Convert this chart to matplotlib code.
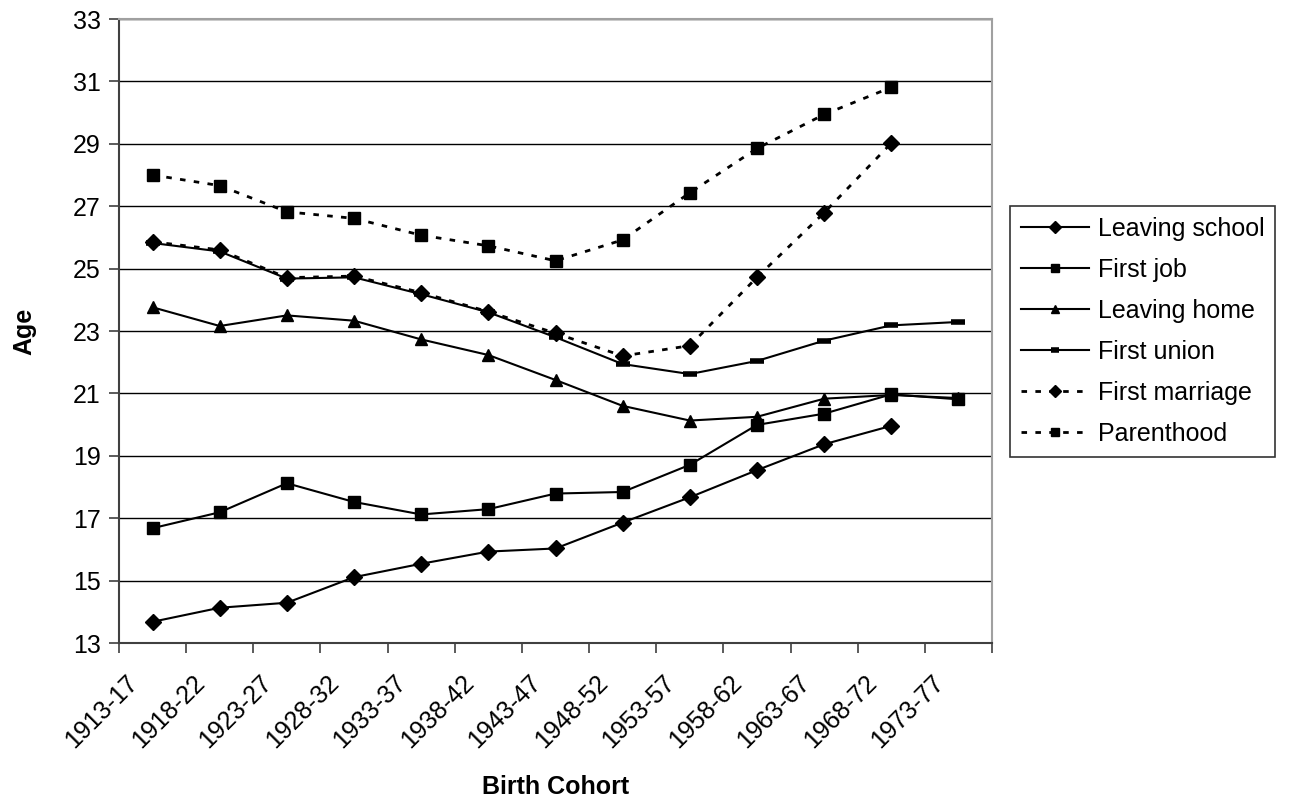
# Ages at life-course transitions by birth cohort
import matplotlib.pyplot as plt
import matplotlib.transforms as mtransforms
import numpy as np

plt.rcParams['font.family'] = ['Liberation Sans', 'DejaVu Sans']

cohorts = ['1913-17', '1918-22', '1923-27', '1928-32', '1933-37', '1938-42', '1943-47',
           '1948-52', '1953-57', '1958-62', '1963-67', '1968-72', '1973-77']

leaving_school = [13.68, 14.13, 14.29, 15.11, 15.54, 15.93, 16.03, 16.86, 17.67, 18.54, 19.37, 19.96, None]
first_job = [16.68, 17.19, 18.12, 17.52, 17.12, 17.29, 17.79, 17.84, 18.71, 19.99, 20.35, 20.97, 20.81]
leaving_home = [23.76, 23.16, 23.50, 23.33, 22.73, 22.23, 21.43, 20.60, 20.13, 20.25, 20.83, 20.95, 20.85]
first_union = [25.82, 25.55, 24.68, 24.72, 24.18, 23.60, 22.80, 21.94, 21.62, 22.04, 22.69, 23.18, 23.29]
first_marriage = [25.86, 25.60, 24.71, 24.76, 24.23, 23.62, 22.93, 22.20, 22.53, 24.72, 26.79, 29.02, None]
parenthood = [28.00, 27.66, 26.82, 26.61, 26.07, 25.73, 25.25, 25.92, 27.43, 28.85, 29.94, 30.81, None]


def to_arr(vals):
    return np.array([np.nan if v is None else v for v in vals], dtype=float)


fig = plt.figure(figsize=(12.93, 8.05), dpi=100)
ax = fig.add_axes([119 / 1293, 1 - 643 / 805, (992 - 119) / 1293, (643 - 19) / 805])

x = np.arange(len(cohorts))
dot = (0, (2.0, 3.0))

ax.plot(x, to_arr(leaving_school), color='black', lw=1.5, marker='D', ms=8, label='Leaving school')
ax.plot(x, to_arr(first_job), color='black', lw=1.5, marker='s', ms=9, label='First job')
ax.plot(x, to_arr(leaving_home), color='black', lw=1.5, marker='^', ms=8.5, label='Leaving home')
ax.plot(x, to_arr(first_union), color='black', lw=1.5, marker='_', ms=10, mew=4, label='First union')
ax.plot(x, to_arr(first_marriage), color='black', lw=2, ls=dot, marker='D', ms=8, label='First marriage')
ax.plot(x, to_arr(parenthood), color='black', lw=2, ls=dot, marker='s', ms=9, label='Parenthood')

ax.set_xlim(-0.5, len(cohorts) - 0.5)
ax.set_ylim(13, 33)
ax.set_yticks(np.arange(13, 34, 2))
ax.yaxis.grid(True, color='black', lw=1)
ax.set_axisbelow(True)

ax.set_xticks(x)
ax.set_xticklabels(cohorts, rotation=45, ha='right', va='top', rotation_mode='anchor', fontsize=18)
ax.set_xticks(np.arange(-0.5, len(cohorts), 1), minor=True)
ax.tick_params(axis='x', which='major', length=0, pad=20)
ax.tick_params(axis='x', which='minor', length=7, width=1.2, color='#404040')
ax.tick_params(axis='y', length=7, width=1.2, color='#404040', labelsize=18, pad=6)

# shift the rotated labels left so they end just before the category centre
shift = mtransforms.ScaledTranslation(-27 / 100, 0, fig.dpi_scale_trans)
for lab in ax.get_xticklabels():
    lab.set_transform(lab.get_transform() + shift)

for side in ['left', 'bottom']:
    ax.spines[side].set_color('#404040')
    ax.spines[side].set_linewidth(1.5)
for side in ['top', 'right']:
    ax.spines[side].set_color('#a0a0a0')
    ax.spines[side].set_linewidth(1.5)

ax.set_ylabel('Age', fontsize=18, fontweight='bold', labelpad=26)
ax.set_xlabel('Birth Cohort', fontsize=18, fontweight='bold', labelpad=16)

leg = ax.legend(loc='center left', bbox_to_anchor=(1010 / 1293, 1 - 331.5 / 805),
                bbox_transform=fig.transFigure, fontsize=18, numpoints=1,
                frameon=True, fancybox=False, edgecolor='black', handlelength=2.7,
                handletextpad=0.35, labelspacing=0.68, borderpad=0.45, borderaxespad=0)
leg.get_frame().set_linewidth(1.2)
for h in leg.legend_handles:
    h.set_markersize(6)

fig.savefig('out.png', dpi=100)
